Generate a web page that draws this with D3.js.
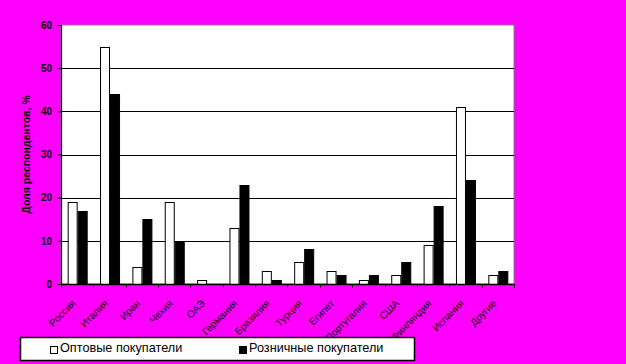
<!DOCTYPE html>
<html>
<head>
<meta charset="utf-8">
<script src="https://cdn.jsdelivr.net/npm/d3@7"></script>
<style>
  body { margin: 0; background: #ff00ff; }
  svg { display: block; font-family: Arial, "Liberation Sans", sans-serif; }
</style>
</head>
<body>
<div id="chart"></div>
<script>
// Chart data
var categories = ["Россия", "Италия", "Иран", "Чехия", "ОАЭ", "Германия", "Бразилия",
  "Турция", "Египет", "Португалия", "США", "Финляндия", "Испания", "Другие"];
var seriesNames = ["Оптовые покупатели", "Розничные покупатели"];
var wholesale = [19, 55, 4, 19, 1, 13, 3, 5, 3, 1, 2, 9, 41, 2];
var retail = [17, 44, 15, 10, 0, 23, 1, 8, 2, 2, 5, 18, 24, 3];
var yTicks = [0, 10, 20, 30, 40, 50, 60];
var seriesFill = ["#ffffff", "#000000"];

var svgWidth = 626, svgHeight = 364;
var margin = { top: 25, right: 112, bottom: 80, left: 61 };
var width = 514 - margin.left;
var height = 284 - margin.top;

var svg = d3.select("#chart").append("svg")
  .attr("width", svgWidth)
  .attr("height", svgHeight);

svg.append("rect")
  .attr("width", svgWidth).attr("height", svgHeight)
  .attr("fill", "#ff00ff");

var chartGroup = svg.append("g")
  .attr("transform", `translate(${margin.left}, ${margin.top})`);

// Plot area
chartGroup.append("rect")
  .attr("width", width).attr("height", height)
  .attr("fill", "#ffffff")
  .attr("stroke", "#808080")
  .attr("stroke-width", 1);

// Scales
var xScale = d3.scaleBand().domain(categories).range([0, width]);
var yScale = d3.scaleLinear().domain([0, 60]).range([height, 0]);
var groupWidth = 19;
var xInner = d3.scaleBand().domain(seriesNames).range([0, groupWidth]);

// Gridlines
chartGroup.selectAll("line.grid")
  .data(yTicks.filter(d => d > 0 && d < 60))
  .enter().append("line")
  .attr("class", "grid")
  .attr("x1", 0).attr("x2", width)
  .attr("y1", d => Math.round(yScale(d)) + 0.5)
  .attr("y2", d => Math.round(yScale(d)) + 0.5)
  .attr("stroke", "#000").attr("stroke-width", 1.2);

// Bars
var rows = categories.map((c, i) => ({ cat: c, vals: [wholesale[i], retail[i]] }));
var groups = chartGroup.selectAll("g.cat")
  .data(rows).enter().append("g")
  .attr("class", "cat")
  .attr("transform", d => `translate(${xScale(d.cat) + xScale.bandwidth() / 2 - groupWidth / 2}, 0)`);

groups.selectAll("rect")
  .data(d => d.vals.map((v, j) => ({ name: seriesNames[j], v: v, j: j })))
  .enter().append("rect")
  .filter(d => d.v > 0)
  .attr("x", d => Math.round(xInner(d.name)) + 0.5)
  .attr("y", d => Math.round(yScale(d.v)) + 0.5)
  .attr("width", xInner.bandwidth() - 0.5)
  .attr("height", d => height - Math.round(yScale(d.v)))
  .attr("fill", d => seriesFill[d.j])
  .attr("stroke", "#000").attr("stroke-width", 1);

// Axes
var leftAxis = d3.axisLeft(yScale).tickValues(yTicks).tickSize(4).tickFormat(d3.format("d"));
var yAxisG = chartGroup.append("g").call(leftAxis);
yAxisG.select(".domain").attr("stroke", "#000").attr("stroke-width", 1.2);
yAxisG.selectAll("line").attr("stroke", "#000");
yAxisG.selectAll("text")
  .attr("x", -9)
  .style("font-size", "10px")
  .style("font-weight", "bold")
  .attr("fill", "#000");

var bottomAxis = d3.axisBottom(xScale).tickSize(0).tickFormat("");
var xAxisG = chartGroup.append("g")
  .attr("transform", `translate(0, ${height})`)
  .call(bottomAxis);
xAxisG.select(".domain").attr("stroke", "#000").attr("stroke-width", 1.5);

// Tick marks between categories
chartGroup.selectAll("line.xtick")
  .data(categories.concat(["end"]))
  .enter().append("line")
  .attr("class", "xtick")
  .attr("x1", (d, i) => Math.round(i * xScale.step()) + 0.5)
  .attr("x2", (d, i) => Math.round(i * xScale.step()) + 0.5)
  .attr("y1", height).attr("y2", height + 4)
  .attr("stroke", "#000");

// Category labels
chartGroup.selectAll("text.cat-label")
  .data(categories)
  .enter().append("text")
  .attr("class", "cat-label")
  .attr("text-anchor", "end")
  .attr("transform", d => `translate(${xScale(d) + xScale.bandwidth() / 2 - 1}, ${height + 20}) rotate(-45)`)
  .style("font-size", "10px")
  .attr("fill", "#000")
  .text(d => d);

// Y axis title
chartGroup.append("text")
  .attr("transform", `translate(-31, ${height / 2}) rotate(-90)`)
  .attr("text-anchor", "middle")
  .style("font-size", "10.5px")
  .style("font-weight", "bold")
  .text("Доля респондентов, %");

// Legend
var legend = svg.append("g").attr("transform", "translate(20, 337)");
legend.append("rect")
  .attr("x", 0.5).attr("y", 0.5)
  .attr("width", 394).attr("height", 23)
  .attr("fill", "#fff")
  .attr("stroke", "#000").attr("stroke-width", 1.5);

var legendX = [30, 219];
seriesNames.forEach(function(name, i) {
  legend.append("rect")
    .attr("x", legendX[i] + 0.5).attr("y", 9.5)
    .attr("width", 7).attr("height", 7)
    .attr("fill", seriesFill[i])
    .attr("stroke", "#000");
  legend.append("text")
    .attr("x", legendX[i] + 10).attr("y", 15)
    .style("font-size", "12.7px")
    .text(name);
});
</script>
</body>
</html>
